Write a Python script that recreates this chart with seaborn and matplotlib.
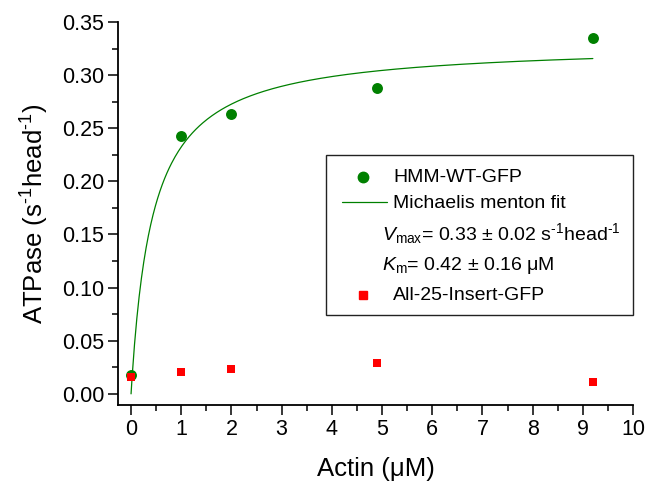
import numpy as np
import pandas as pd
import matplotlib
matplotlib.use("Agg")
import matplotlib.pyplot as plt
import seaborn as sns
from matplotlib.lines import Line2D
from matplotlib.patches import Rectangle

# Measured ATPase rates
actin = [0.0, 1.0, 2.0, 4.9, 9.2]
hmm_wt_gfp = [0.018, 0.243, 0.263, 0.288, 0.335]
all25_insert_gfp = [0.016, 0.021, 0.0235, 0.029, 0.011]

# Michaelis-Menten fit parameters for HMM-WT-GFP
vmax = 0.33
km = 0.42

sns.set_theme(style="ticks")
plt.rcParams["font.family"] = ["Liberation Sans", "DejaVu Sans"]
plt.rcParams["mathtext.fontset"] = "custom"
plt.rcParams["mathtext.rm"] = "Liberation Sans"
plt.rcParams["mathtext.it"] = "Liberation Sans:italic"
plt.rcParams["mathtext.bf"] = "Liberation Sans:bold"
for key in ("text.color", "axes.labelcolor", "xtick.color", "ytick.color",
            "axes.edgecolor"):
    plt.rcParams[key] = "black"

W, H = 646, 483
fig = plt.figure(figsize=(W / 100, H / 100), dpi=100)
ax = fig.add_axes([118 / W, 1 - 405 / H, (633 - 118) / W, (405 - 22) / H])

df_wt = pd.DataFrame({"actin": actin, "rate": hmm_wt_gfp})
df_ins = pd.DataFrame({"actin": actin, "rate": all25_insert_gfp})
x_fit = np.linspace(0, max(actin), 400)
df_fit = pd.DataFrame({"actin": x_fit, "rate": vmax * x_fit / (km + x_fit)})

sns.lineplot(data=df_fit, x="actin", y="rate", ax=ax, color="#008000",
             linewidth=0.9, zorder=2)
sns.scatterplot(data=df_wt, x="actin", y="rate", ax=ax, color="#008000",
                marker="o", s=62, linewidth=0, zorder=3)
sns.scatterplot(data=df_ins, x="actin", y="rate", ax=ax, color="#ff0000",
                marker="s", s=36, linewidth=0, zorder=4)

ax.set_xlim(-0.26, 10)
ax.set_ylim(-0.0105, 0.35)
ax.set_xticks(np.arange(0, 11, 1))
ax.set_xticks(np.arange(0.5, 10, 1), minor=True)
ax.set_yticks(np.arange(0, 0.351, 0.05))
ax.set_yticks(np.arange(0.025, 0.35, 0.05), minor=True)
ax.set_yticklabels([f"{v:.2f}" for v in np.arange(0, 0.351, 0.05)])

for s in ("top", "right"):
    ax.spines[s].set_visible(False)
for s in ("left", "bottom"):
    ax.spines[s].set_linewidth(1.3)
ax.spines["left"].set_bounds(-0.0105, 0.35)
ax.tick_params(which="major", direction="out", length=7, width=1.1,
               labelsize=15.5, pad=3)
ax.tick_params(which="minor", direction="out", length=4, width=1.1)

ax.set_xlabel("Actin (\u03bcM)", fontsize=18.5, labelpad=12)
ax.set_ylabel("ATPase (s$^{\\text{-}1}$head$^{\\text{-}1}$)", fontsize=18.5,
              labelpad=8)


def px(x, y):
    return x / W, 1 - y / H


# Legend box with fit parameters
fig.patches.append(Rectangle(px(326, 315), (633 - 326) / W, (315 - 155) / H,
                             transform=fig.transFigure, fill=False,
                             edgecolor="#222222", linewidth=1.0, zorder=5))
fs = 14
fig.add_artist(Line2D([363 / W], [1 - 177 / H], marker="o", color="#008000",
                      markersize=7.5, linestyle="none",
                      transform=fig.transFigure))
fig.add_artist(Line2D([342 / W, 387 / W], [1 - 202 / H] * 2, color="#008000",
                      linewidth=0.9, transform=fig.transFigure))
fig.add_artist(Line2D([363 / W], [1 - 295 / H], marker="s", color="#ff0000",
                      markersize=5.5, linestyle="none",
                      transform=fig.transFigure))
fig.text(*px(393, 177), "HMM-WT-GFP", fontsize=fs, va="center", ha="left")
fig.text(*px(393, 203), "Michaelis menton fit", fontsize=fs, va="center",
         ha="left")
fig.text(*px(382, 234),
         "$V_{\\mathrm{max}}$= 0.33 \u00b1 0.02 s$^{\\text{-}1}$head$^{\\text{-}1}$",
         fontsize=fs, va="center", ha="left")
fig.text(*px(382, 266), "$K_{\\mathrm{m}}$= 0.42 \u00b1 0.16 \u03bcM",
         fontsize=fs, va="center", ha="left")
fig.text(*px(393, 295), "All-25-Insert-GFP", fontsize=fs, va="center",
         ha="left")

fig.savefig("out.png", dpi=100)
